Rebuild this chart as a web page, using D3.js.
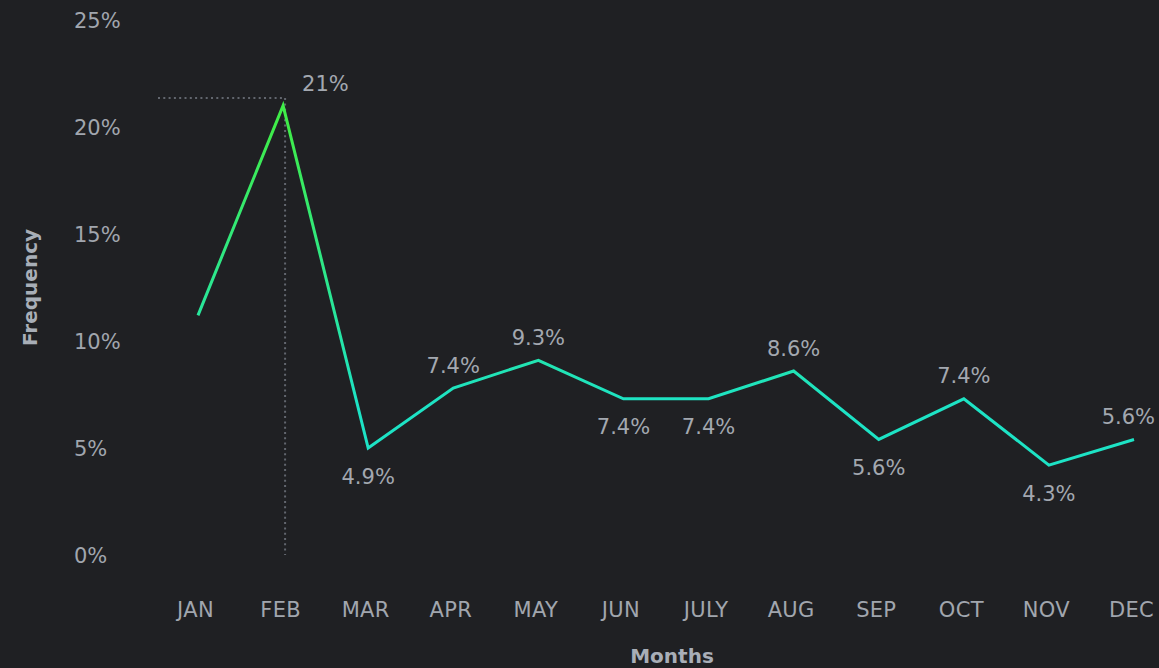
<html>
    <head>
        <script src="https://cdnjs.cloudflare.com/ajax/libs/d3/7.8.5/d3.min.js"></script>
        <style>
            body {
                margin: 0;
                background: #1f2023;
            }
            .axis text {
                font-family: "DejaVu Sans", sans-serif;
                fill: #a1a6ae;
            }
        </style>
        <title>Frequency by month</title>
    </head>
    <body>
        <div id="chart"></div>
        <script>
            // months on the x axis
            const months = ["JAN", "FEB", "MAR", "APR", "MAY", "JUN", "JULY", "AUG", "SEP", "OCT", "NOV", "DEC"];
            // frequency (%) as drawn by the line
            const values = [11.2, 21.0, 5.0, 7.8, 9.1, 7.3, 7.3, 8.6, 5.4, 7.3, 4.2, 5.4];
            // text printed next to each point (JAN has none)
            const valueLabels = [null, "21%", "4.9%", "7.4%", "9.3%", "7.4%", "7.4%", "8.6%", "5.6%", "7.4%", "4.3%", "5.6%"];
            const yTicks = [0, 5, 10, 15, 20, 25];
            // hovered point with its crosshair
            const hoverMonth = "FEB";
            const hoverValue = 21.35;

            const width = 1159;
            const height = 668;

            let data = months.map((m, i) => ({month: m, value: values[i], label: valueLabels[i]}));

            let svg = d3.select("#chart").append("svg")
                        .attr("width", width)
                        .attr("height", height)

            let xScale = d3.scalePoint()
                           .domain(months)
                           .range([198, 1134])
            let yScale = d3.scaleLinear()
                           .domain([0, 25])
                           .range([555, 20])

            // y axis, labels left aligned
            let leftAxis = d3.axisLeft(yScale)
                             .tickValues(yTicks)
                             .tickSize(0)
                             .tickPadding(0)
                             .tickFormat(d => d + "%")
            let yAxisG = svg.append("g")
                            .attr("class", "axis")
                            .attr("transform", "translate(74, 0)")
                            .call(leftAxis)
            yAxisG.select(".domain").remove()
            yAxisG.selectAll("text")
                  .attr("x", 0)
                  .attr("dy", "0.36em")
                  .attr("text-anchor", "start")
                  .style("font-size", "21px")

            // x axis
            let bottomAxis = d3.axisBottom(xScale).tickSize(0).tickPadding(0)
            let xAxisG = svg.append("g")
                            .attr("class", "axis")
                            .attr("transform", "translate(-3, 617)")
                            .call(bottomAxis)
            xAxisG.select(".domain").remove()
            xAxisG.selectAll("text")
                  .attr("y", 0)
                  .attr("dy", 0)
                  .style("font-size", "21px")
                  .style("letter-spacing", "0.3px")

            // crosshair on the hovered point
            let hx = xScale(hoverMonth);
            let hy = yScale(hoverValue);
            svg.append("line")
               .attr("x1", xScale(months[0]) - 40)
               .attr("x2", hx + 2)
               .attr("y1", hy)
               .attr("y2", hy)
               .attr("stroke", "#62666e")
               .attr("stroke-width", 2)
               .attr("stroke-dasharray", "2 3.3")
            svg.append("line")
               .attr("x1", hx + 2)
               .attr("x2", hx + 2)
               .attr("y1", hy)
               .attr("y2", yScale(0))
               .attr("stroke", "#62666e")
               .attr("stroke-width", 2)
               .attr("stroke-dasharray", "2 3.3")

            // green to teal gradient down the line
            let defs = svg.append("defs")
            defs.append("linearGradient")
                .attr("id", "line-gradient")
                .attr("gradientUnits", "userSpaceOnUse")
                .attr("x1", 0)
                .attr("y1", yScale(20))
                .attr("x2", 0)
                .attr("y2", yScale(7))
                .selectAll("stop")
                .data([
                    {offset: "0%", color: "#3fec49"},
                    {offset: "100%", color: "#1de3c5"}
                ])
                .join("stop")
                .attr("offset", d => d.offset)
                .attr("stop-color", d => d.color)

            let lineGen = d3.line()
                            .x(d => xScale(d.month))
                            .y(d => yScale(d.value))

            svg.append("path")
               .datum(data)
               .attr("fill", "none")
               .attr("stroke", "url(#line-gradient)")
               .attr("stroke-width", 3)
               .attr("d", lineGen)

            // value labels: above when the value rose, below otherwise
            let valueText = svg.selectAll("text.value").data(data.filter(d => d.label))
               .join("text")
               .attr("class", "value")
               .attr("x", d => d.month == hoverMonth ? xScale(d.month) + 19 : xScale(d.month))
               .attr("y", d => {
                   let i = months.indexOf(d.month);
                   let up = d.value > values[i - 1];
                   if (d.month == hoverMonth) return yScale(hoverValue) - 15;
                   return up ? yScale(d.value) - 23 : yScale(d.value) + 28;
               })
               .attr("dy", "0.36em")
               .attr("text-anchor", d => d.month == hoverMonth ? "start" : "middle")
               .style("font-family", "DejaVu Sans, sans-serif")
               .style("font-size", "21px")
               .style("fill", "#a3a8b0")
               .text(d => d.label)

            // keep labels inside the right edge
            valueText.each(function(d) {
                let box = this.getBBox();
                if (box.x + box.width > width - 4) {
                    d3.select(this).attr("x", +d3.select(this).attr("x") - (box.x + box.width - (width - 4)))
                }
            })

            // axis titles
            svg.append("text")
               .attr("transform", `translate(37, ${(yScale(0) + yScale(25)) / 2}) rotate(-90)`)
               .attr("text-anchor", "middle")
               .style("font-family", "DejaVu Sans, sans-serif")
               .style("font-weight", "bold")
               .style("font-size", "20px")
               .style("fill", "#a8aeb7")
               .text("Frequency")

            svg.append("text")
               .attr("x", (xScale.range()[0] + xScale.range()[1]) / 2 + 6)
               .attr("y", 663)
               .attr("text-anchor", "middle")
               .style("font-family", "DejaVu Sans, sans-serif")
               .style("font-weight", "bold")
               .style("font-size", "20px")
               .style("fill", "#a8aeb7")
               .text("Months")
        </script>
    </body>
</html>
